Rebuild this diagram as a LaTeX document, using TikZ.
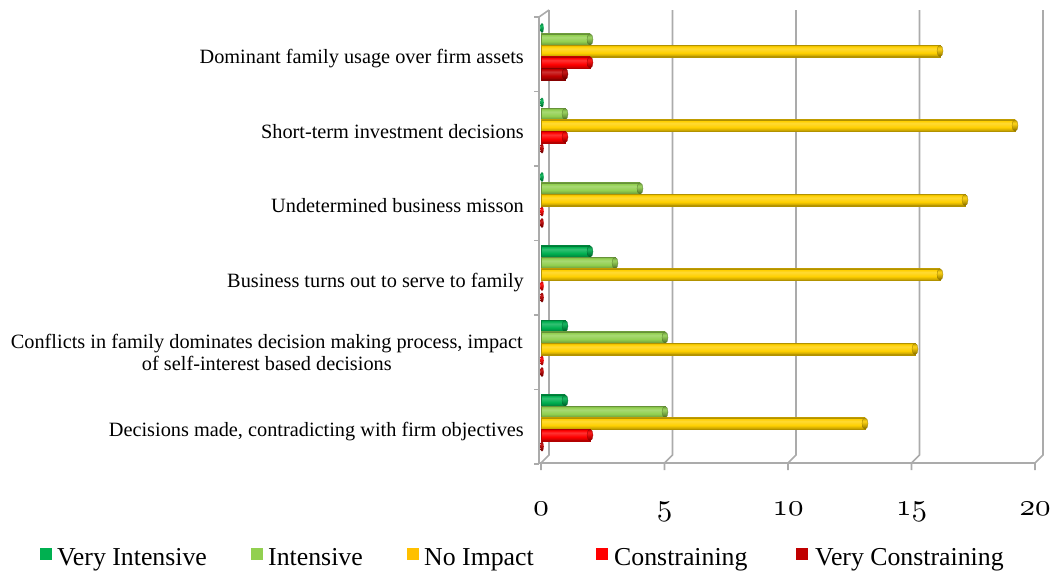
\documentclass[tikz,border=0pt]{standalone}
\usepackage{fontspec}
\setmainfont{Liberation Serif}
\usepackage{graphicx}
\definecolor{cVI}{HTML}{00B050}
\definecolor{cI}{HTML}{92D050}
\definecolor{cNI}{HTML}{FFC000}
\definecolor{cC}{HTML}{FF0000}
\definecolor{cVC}{HTML}{C00000}
\definecolor{bVI}{HTML}{00B050}
\definecolor{bI}{HTML}{92D050}
\definecolor{bNI}{HTML}{FFD000}
\definecolor{bC}{HTML}{FF0000}
\definecolor{bVC}{HTML}{C00000}
\definecolor{gridgray}{HTML}{ABABAB}
\newcommand\mkshade[1]{%
  \pgfdeclareverticalshading{body#1}{100bp}{color(0bp)=(#1!55!black); color(25bp)=(#1!55!black);
    color(30bp)=(#1!80!black); color(42bp)=(#1); color(60bp)=(#1!80!white);
    color(70bp)=(#1); color(75bp)=(#1!85!black); color(100bp)=(#1!85!black)}%
  \pgfdeclareverticalshading{cap#1}{100bp}{color(0bp)=(#1!45!black); color(25bp)=(#1!45!black);
    color(40bp)=(#1!75!black); color(60bp)=(#1!90!white);
    color(75bp)=(#1!75!black); color(100bp)=(#1!75!black)}}
\mkshade{bVI}\mkshade{bI}\mkshade{bNI}\mkshade{bC}\mkshade{bVC}
\newcommand\drawbar[4]{%
  \pgfmathsetmacro\yc{17+74.5*#1+11+11.5*#2}%
  \pgfmathsetmacro\xe{541+25*#3-1}%
  \ifdim #3pt>0pt
    \path[shading=body#4,draw=#4!70!black, line width=0.3pt] (541,\yc-5.75) rectangle (\xe,\yc+5.75);
    \path[shading=cap#4,draw=#4!60!black, line width=0.3pt] (\xe,\yc) ellipse (3 and 5.75);
  \else
    \path[shading=cap#4] (542,\yc) ellipse (1.8 and 5);
  \fi}
\newcommand\osnum[1]{\scalebox{3.1}{\usefont{OML}{cmm}{m}{it}#1}}
\begin{document}
\begin{tikzpicture}[x=1pt,y=-1pt,
  gridline/.style={draw=gridgray,line width=1.6pt},
  catlabel/.style={font=\fontsize{20.3}{22}\selectfont,inner sep=0pt,anchor=base east},
  leglabel/.style={font=\fontsize{25.8}{28}\selectfont,inner sep=0pt,anchor=base west},
  legbox/.style={minimum size=12pt,inner sep=0pt,anchor=north west},
  ticklabel/.style={inner sep=0pt,anchor=base}]
\useasboundingbox (0,0) rectangle (1057,571);
% walls and gridlines
\foreach \k in {0,...,4} {
  \pgfmathsetmacro\xf{541+123.5*\k}
  \draw[gridline] (\xf+8,10) -- (\xf+8,455) -- (\xf,463) -- (\xf,470);
}
\draw[gridline] (539,463) -- (1035,463);
\draw[gridline] (549,10) -- (539,17) -- (539,463);
\foreach \g in {0,...,6} {
  \draw[gridline] (534,17+74.5*\g) -- (539,17+74.5*\g);
}
% bars: group, series, value, colour
\drawbar{0}{0}{0}{bVI}\drawbar{0}{1}{2}{bI}\drawbar{0}{2}{16}{bNI}\drawbar{0}{3}{2}{bC}\drawbar{0}{4}{1}{bVC}
\drawbar{1}{0}{0}{bVI}\drawbar{1}{1}{1}{bI}\drawbar{1}{2}{19}{bNI}\drawbar{1}{3}{1}{bC}\drawbar{1}{4}{0}{bVC}
\drawbar{2}{0}{0}{bVI}\drawbar{2}{1}{4}{bI}\drawbar{2}{2}{17}{bNI}\drawbar{2}{3}{0}{bC}\drawbar{2}{4}{0}{bVC}
\drawbar{3}{0}{2}{bVI}\drawbar{3}{1}{3}{bI}\drawbar{3}{2}{16}{bNI}\drawbar{3}{3}{0}{bC}\drawbar{3}{4}{0}{bVC}
\drawbar{4}{0}{1}{bVI}\drawbar{4}{1}{5}{bI}\drawbar{4}{2}{15}{bNI}\drawbar{4}{3}{0}{bC}\drawbar{4}{4}{0}{bVC}
\drawbar{5}{0}{1}{bVI}\drawbar{5}{1}{5}{bI}\drawbar{5}{2}{13}{bNI}\drawbar{5}{3}{2}{bC}\drawbar{5}{4}{0}{bVC}
% category labels
\node[catlabel] (l1) at (524,63) {Dominant family usage over firm assets};
\node[catlabel] (l2) at (524,138) {Short-term investment decisions};
\node[catlabel] (l3) at (524,212) {Undetermined business misson};
\node[catlabel] (l4) at (524,287) {Business turns out to serve to family};
\node[catlabel] (l5a) at (523,348) {Conflicts in family dominates decision making process, impact};
\node[catlabel,anchor=base] (l5b) at ([yshift=-22pt]l5a.base) {of self-interest based decisions};
\node[catlabel] (l6) at (524,436) {Decisions made, contradicting with firm objectives};
% axis numbers
\foreach \k/\lab in {0/0,1/5,2/10,3/15,4/20} {
  \node[ticklabel] (t\k) at (541+123.5*\k,515) {\osnum{\lab}};
}
% legend
\node[legbox,fill=cVI] (s1) at (40,548) {};
\node[leglabel] (g1) at (57,565) {Very Intensive};
\node[legbox,fill=cI] (s2) at (251,548) {};
\node[leglabel] (g2) at (268,565) {Intensive};
\node[legbox,fill=cNI] (s3) at (407,548) {};
\node[leglabel] (g3) at (424,565) {No Impact};
\node[legbox,fill=cC] (s4) at (596,548) {};
\node[leglabel] (g4) at (614,565) {Constraining};
\node[legbox,fill=cVC] (s5) at (796,548) {};
\node[leglabel] (g5) at (815,565) {Very Constraining};
\end{tikzpicture}
\end{document}
